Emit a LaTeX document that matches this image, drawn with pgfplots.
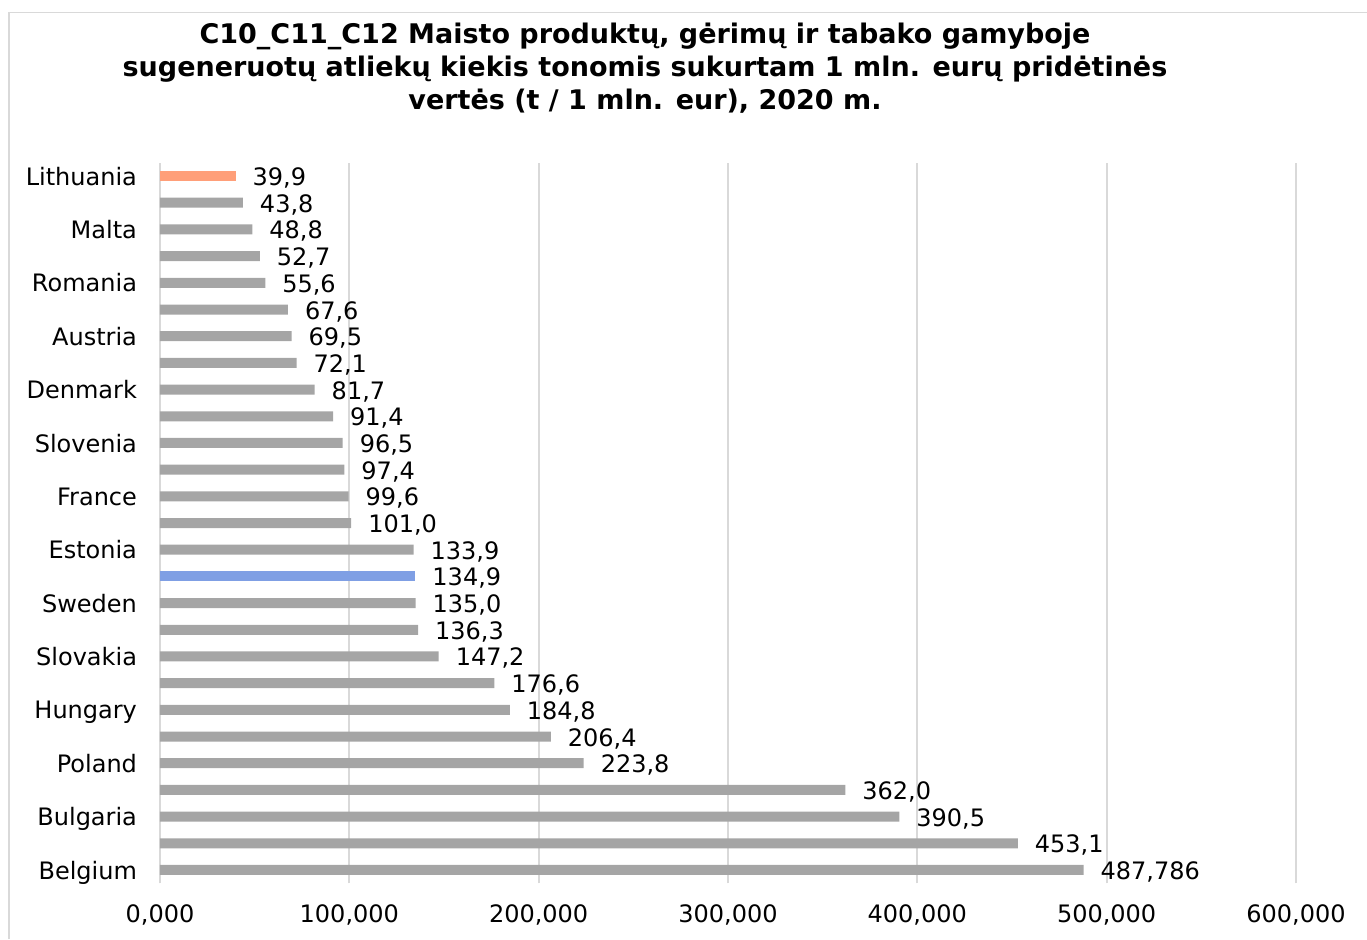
\documentclass[border=0pt]{standalone}
\usepackage{pgfplots}
\pgfplotsset{compat=1.18}
\usepackage{pgfplotstable}
\usepackage{fontspec}
\setmainfont{DejaVu Sans}
\definecolor{barg}{HTML}{A5A5A5}
\definecolor{baro}{HTML}{FF9F79}
\definecolor{barb}{HTML}{7F9FE4}
\definecolor{gridc}{HTML}{D9D9D9}
\definecolor{framec}{HTML}{D9D9D9}
\pgfplotstableread{
y v lab
0 487.786 487,786
1 453.1 453,1
2 390.5 390,5
3 362.0 362,0
4 223.8 223,8
5 206.4 206,4
6 184.8 184,8
7 176.6 176,6
8 147.2 147,2
9 136.3 136,3
10 135.0 135,0
12 133.9 133,9
13 101.0 101,0
14 99.6 99,6
15 97.4 97,4
16 96.5 96,5
17 91.4 91,4
18 81.7 81,7
19 72.1 72,1
20 69.5 69,5
21 67.6 67,6
22 55.6 55,6
23 52.7 52,7
24 48.8 48,8
25 43.8 43,8
}\grayd
\pgfplotstableread{
y v lab
26 39.9 39,9
}\oranged
\pgfplotstableread{
y v lab
11 134.9 134,9
}\blued
\begin{document}
\begin{tikzpicture}
\useasboundingbox (0,0) rectangle (683.5pt,-469.5pt);
\draw[framec, line width=0.8pt] (4.5pt,-469.5pt) -- (4.5pt,-6.3pt) -- (683.5pt,-6.3pt);
\node[align=center, font=\bfseries\fontsize{13.5pt}{16.5pt}\selectfont] at (322.5pt,-34pt)
{C10\_C11\_C12 Maisto produktų, gėrimų ir tabako gamyboje\\
sugeneruotų atliekų kiekis tonomis sukurtam 1 mln. eurų pridėtinės\\
vertės (t / 1 mln. eur), 2020 m.};
\begin{axis}[
  at={(80pt,-441.65pt)}, anchor=south west,
  scale only axis, width=568pt, height=360.3pt,
  xbar, bar width=5pt, bar shift=0pt,
  xmin=0, xmax=600, ymin=-0.5, ymax=26.5,
  axis line style={draw=none},
  axis x line*=bottom,
  xmajorgrids, grid style={gridc, line width=0.9pt},
  extra x ticks={0}, extra x tick labels={},
  extra x tick style={grid style={gridc, line width=0.9pt}},
  xtick={0,100,...,600},
  xticklabels={{0,000},{100,000},{200,000},{300,000},{400,000},{500,000},{600,000}},
  ytick={0,2,...,26},
  yticklabels={Belgium,Bulgaria,Poland,Hungary,Slovakia,Sweden,Estonia,France,Slovenia,Denmark,Austria,Romania,Malta,Lithuania},
  major tick length=0pt,
  tick label style={font=\fontsize{12pt}{14pt}\selectfont},
  xticklabel style={yshift=-7pt},
  yticklabel style={xshift=-8pt, text depth=0pt},
  nodes near coords,
  point meta=explicit symbolic,
  every node near coord/.append style={anchor=west, xshift=5pt, yshift=-1pt, font=\fontsize{12pt}{14pt}\selectfont, text=black},
  clip=false,
]
\addplot[fill=barg, draw=none] table[x=v, y=y, meta=lab] {\grayd};
\addplot[fill=baro, draw=none] table[x=v, y=y, meta=lab] {\oranged};
\addplot[fill=barb, draw=none] table[x=v, y=y, meta=lab] {\blued};
\end{axis}
\end{tikzpicture}
\end{document}
